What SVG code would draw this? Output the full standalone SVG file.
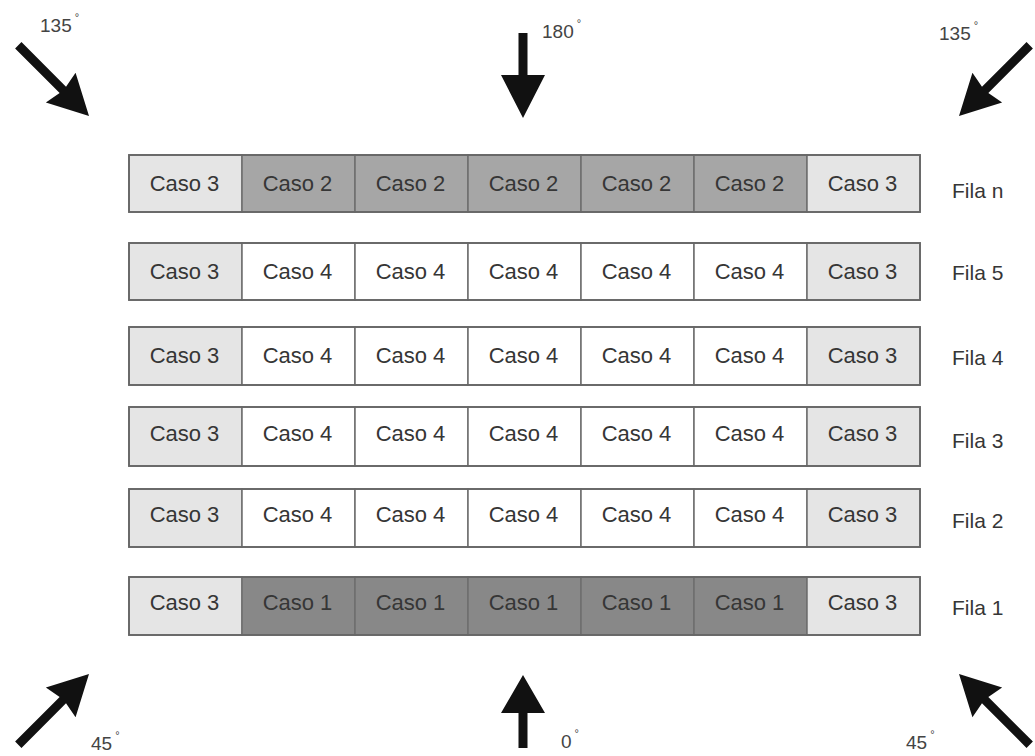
<svg xmlns="http://www.w3.org/2000/svg" width="1035" height="756" viewBox="0 0 1035 756">
<style>
.cell{stroke:#6e6e6e;stroke-width:1.5}
.c1{fill:#888888}
.c2{fill:#a6a6a6}
.c3{fill:#e5e5e5}
.c4{fill:#ffffff}
.frame{fill:none;stroke:#666;stroke-width:1.8}
.t{font-family:"Liberation Sans",Arial,sans-serif;font-size:22px;fill:#363636;text-anchor:middle}
.fila{font-family:"Liberation Sans",Arial,sans-serif;font-size:21px;fill:#363636}
.deg{font-family:"Liberation Sans",Arial,sans-serif;font-size:19px;fill:#444}
.sup{font-size:11px}
.arrow{fill:#111}
</style>
<defs>
<path id="diag" d="M-100,-4.5 L-37,-4.5 L-40,-21 L0,0 L-40,21 L-37,4.5 L-100,4.5 Z"/>
</defs>

<g id="row-n">
<rect class="cell c3" x="129" y="155" width="113" height="57"/>
<rect class="cell c2" x="242" y="155" width="113" height="57"/>
<rect class="cell c2" x="355" y="155" width="113" height="57"/>
<rect class="cell c2" x="468" y="155" width="113" height="57"/>
<rect class="cell c2" x="581" y="155" width="113" height="57"/>
<rect class="cell c2" x="694" y="155" width="113" height="57"/>
<rect class="cell c3" x="807" y="155" width="113" height="57"/>
<rect class="frame" x="129" y="155" width="791" height="57"/>
<text class="t" x="184.5" y="191">Caso 3</text>
<text class="t" x="297.5" y="191">Caso 2</text>
<text class="t" x="410.5" y="191">Caso 2</text>
<text class="t" x="523.5" y="191">Caso 2</text>
<text class="t" x="636.5" y="191">Caso 2</text>
<text class="t" x="749.5" y="191">Caso 2</text>
<text class="t" x="862.5" y="191">Caso 3</text>
<text class="fila" x="952" y="198">Fila n</text>
</g>

<g id="row-5">
<rect class="cell c3" x="129" y="243" width="113" height="57"/>
<rect class="cell c4" x="242" y="243" width="113" height="57"/>
<rect class="cell c4" x="355" y="243" width="113" height="57"/>
<rect class="cell c4" x="468" y="243" width="113" height="57"/>
<rect class="cell c4" x="581" y="243" width="113" height="57"/>
<rect class="cell c4" x="694" y="243" width="113" height="57"/>
<rect class="cell c3" x="807" y="243" width="113" height="57"/>
<rect class="frame" x="129" y="243" width="791" height="57"/>
<text class="t" x="184.5" y="279">Caso 3</text>
<text class="t" x="297.5" y="279">Caso 4</text>
<text class="t" x="410.5" y="279">Caso 4</text>
<text class="t" x="523.5" y="279">Caso 4</text>
<text class="t" x="636.5" y="279">Caso 4</text>
<text class="t" x="749.5" y="279">Caso 4</text>
<text class="t" x="862.5" y="279">Caso 3</text>
<text class="fila" x="952" y="280">Fila 5</text>
</g>

<g id="row-4">
<rect class="cell c3" x="129" y="327" width="113" height="58"/>
<rect class="cell c4" x="242" y="327" width="113" height="58"/>
<rect class="cell c4" x="355" y="327" width="113" height="58"/>
<rect class="cell c4" x="468" y="327" width="113" height="58"/>
<rect class="cell c4" x="581" y="327" width="113" height="58"/>
<rect class="cell c4" x="694" y="327" width="113" height="58"/>
<rect class="cell c3" x="807" y="327" width="113" height="58"/>
<rect class="frame" x="129" y="327" width="791" height="58"/>
<text class="t" x="184.5" y="363">Caso 3</text>
<text class="t" x="297.5" y="363">Caso 4</text>
<text class="t" x="410.5" y="363">Caso 4</text>
<text class="t" x="523.5" y="363">Caso 4</text>
<text class="t" x="636.5" y="363">Caso 4</text>
<text class="t" x="749.5" y="363">Caso 4</text>
<text class="t" x="862.5" y="363">Caso 3</text>
<text class="fila" x="952" y="365">Fila 4</text>
</g>

<g id="row-3">
<rect class="cell c3" x="129" y="407" width="113" height="59"/>
<rect class="cell c4" x="242" y="407" width="113" height="59"/>
<rect class="cell c4" x="355" y="407" width="113" height="59"/>
<rect class="cell c4" x="468" y="407" width="113" height="59"/>
<rect class="cell c4" x="581" y="407" width="113" height="59"/>
<rect class="cell c4" x="694" y="407" width="113" height="59"/>
<rect class="cell c3" x="807" y="407" width="113" height="59"/>
<rect class="frame" x="129" y="407" width="791" height="59"/>
<text class="t" x="184.5" y="441">Caso 3</text>
<text class="t" x="297.5" y="441">Caso 4</text>
<text class="t" x="410.5" y="441">Caso 4</text>
<text class="t" x="523.5" y="441">Caso 4</text>
<text class="t" x="636.5" y="441">Caso 4</text>
<text class="t" x="749.5" y="441">Caso 4</text>
<text class="t" x="862.5" y="441">Caso 3</text>
<text class="fila" x="952" y="448">Fila 3</text>
</g>

<g id="row-2">
<rect class="cell c3" x="129" y="489" width="113" height="58"/>
<rect class="cell c4" x="242" y="489" width="113" height="58"/>
<rect class="cell c4" x="355" y="489" width="113" height="58"/>
<rect class="cell c4" x="468" y="489" width="113" height="58"/>
<rect class="cell c4" x="581" y="489" width="113" height="58"/>
<rect class="cell c4" x="694" y="489" width="113" height="58"/>
<rect class="cell c3" x="807" y="489" width="113" height="58"/>
<rect class="frame" x="129" y="489" width="791" height="58"/>
<text class="t" x="184.5" y="522">Caso 3</text>
<text class="t" x="297.5" y="522">Caso 4</text>
<text class="t" x="410.5" y="522">Caso 4</text>
<text class="t" x="523.5" y="522">Caso 4</text>
<text class="t" x="636.5" y="522">Caso 4</text>
<text class="t" x="749.5" y="522">Caso 4</text>
<text class="t" x="862.5" y="522">Caso 3</text>
<text class="fila" x="952" y="528">Fila 2</text>
</g>

<g id="row-1">
<rect class="cell c3" x="129" y="577" width="113" height="58"/>
<rect class="cell c1" x="242" y="577" width="113" height="58"/>
<rect class="cell c1" x="355" y="577" width="113" height="58"/>
<rect class="cell c1" x="468" y="577" width="113" height="58"/>
<rect class="cell c1" x="581" y="577" width="113" height="58"/>
<rect class="cell c1" x="694" y="577" width="113" height="58"/>
<rect class="cell c3" x="807" y="577" width="113" height="58"/>
<rect class="frame" x="129" y="577" width="791" height="58"/>
<text class="t" x="184.5" y="610">Caso 3</text>
<text class="t" x="297.5" y="610">Caso 1</text>
<text class="t" x="410.5" y="610">Caso 1</text>
<text class="t" x="523.5" y="610">Caso 1</text>
<text class="t" x="636.5" y="610">Caso 1</text>
<text class="t" x="749.5" y="610">Caso 1</text>
<text class="t" x="862.5" y="610">Caso 3</text>
<text class="fila" x="952" y="615">Fila 1</text>
</g>

<g id="arrows">
<use class="arrow" href="#diag" transform="translate(89,116) rotate(45)"/>
<use class="arrow" href="#diag" transform="translate(959,116) rotate(135)"/>
<use class="arrow" href="#diag" transform="translate(89,674) rotate(-45)"/>
<use class="arrow" href="#diag" transform="translate(959,674) rotate(-135)"/>
<path class="arrow" d="M518.5,33 L527.5,33 L527.5,75 L545,75 L523,118 L501,75 L518.5,75 Z"/>
<path class="arrow" d="M518.5,748 L527.5,748 L527.5,713 L545,713 L523,675 L501,713 L518.5,713 Z"/>
</g>

<g id="angle-labels">
<text class="deg" x="40" y="32">135<tspan class="sup" dx="3" dy="-11">°</tspan></text>
<text class="deg" x="542" y="38">180<tspan class="sup" dx="3" dy="-11">°</tspan></text>
<text class="deg" x="939" y="40">135<tspan class="sup" dx="3" dy="-11">°</tspan></text>
<text class="deg" x="91" y="750">45<tspan class="sup" dx="3" dy="-11">°</tspan></text>
<text class="deg" x="561" y="748">0<tspan class="sup" dx="3" dy="-11">°</tspan></text>
<text class="deg" x="906" y="749">45<tspan class="sup" dx="3" dy="-11">°</tspan></text>
</g>
</svg>
